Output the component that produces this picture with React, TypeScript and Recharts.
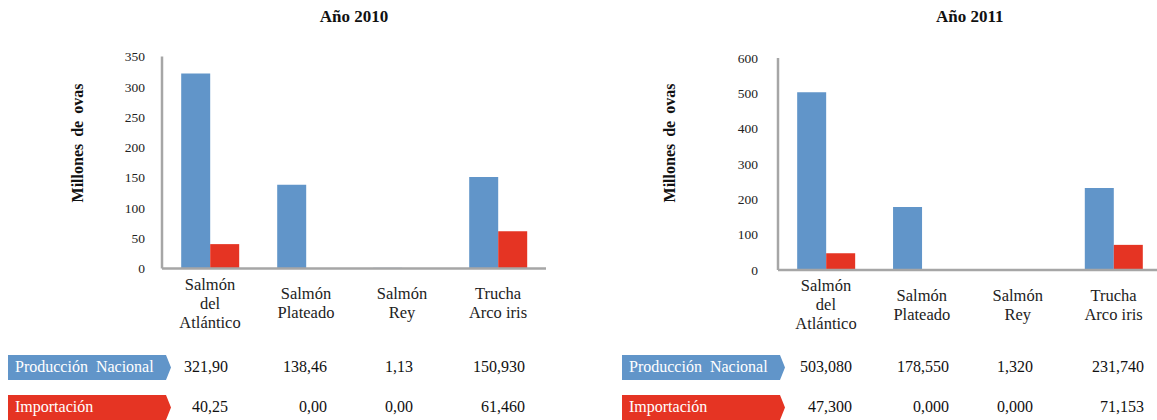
import { Bar, BarChart, XAxis, YAxis } from 'recharts';

const FONT = '"Liberation Serif", "DejaVu Serif", "Times New Roman", serif';
const BLUE = '#6195c9';
const RED = '#e53423';
const AXIS_GREY = '#a6a6a6';

const CATEGORIES = ['Salmón del Atlántico', 'Salmón Plateado', 'Salmón Rey', 'Trucha Arco iris'];
const CATEGORY_LINES: Record<string, string[]> = {
  'Salmón del Atlántico': ['Salmón', 'del', 'Atlántico'],
  'Salmón Plateado': ['Salmón', 'Plateado'],
  'Salmón Rey': ['Salmón', 'Rey'],
  'Trucha Arco iris': ['Trucha', 'Arco iris'],
};
const SERIES_NAMES = ['Producción  Nacional', 'Importación'];

const PRODUCCION_2010 = [321.9, 138.46, 1.13, 150.93];
const IMPORTACION_2010 = [40.25, 0, 0, 61.46];
const DECIMALS_2010 = [2, 2, 2, 3];
const TICKS_2010 = [0, 50, 100, 150, 200, 250, 300, 350];

const PRODUCCION_2011 = [503.08, 178.55, 1.32, 231.74];
const IMPORTACION_2011 = [47.3, 0, 0, 71.153];
const DECIMALS_2011 = [3, 3, 3, 3];
const TICKS_2011 = [0, 100, 200, 300, 400, 500, 600];

const fmt = (v: number, d: number) => v.toFixed(d).replace('.', ',');

function CategoryTick({ x, y, payload }: any) {
  const lines = CATEGORY_LINES[payload.value] ?? [payload.value];
  const mid = y + 26.5;
  const start = mid - ((lines.length - 1) * 19) / 2;
  return (
    <g>
      {lines.map((line, i) => (
        <text
          key={i}
          x={x}
          y={start + i * 19}
          dy="0.35em"
          textAnchor="middle"
          style={{ fontFamily: FONT }}
          fontSize={16.5}
          fill="#222"
        >
          {line}
        </text>
      ))}
    </g>
  );
}

function YTitle({ posX, posY }: any) {
  return (
    <text
      x={posX}
      y={posY}
      transform={`rotate(-90, ${posX}, ${posY})`}
      textAnchor="middle"
      dominantBaseline="central"
      style={{ fontFamily: FONT, wordSpacing: 3 }}
      fontWeight="bold"
      fontSize={16}
      fill="#111"
    >
      Millones de ovas
    </text>
  );
}

interface YearChartProps {
  title: string;
  left: number;
  width: number;
  produccion: number[];
  importacion: number[];
  decimals: number[];
  ticks: number[];
  plotLeft: number;
  plotRight: number;
  plotTop: number;
  plotBottom: number;
  tickMargin: number;
  yTitleX: number;
  boxLeft: number;
  boxWidth: number;
  valueRight: number[];
}

function YearChart(p: YearChartProps) {
  const data = CATEGORIES.map((name, i) => ({
    name,
    produccion: p.produccion[i],
    importacion: p.importacion[i],
  }));
  const height = 340;
  const titleCenter = (p.plotLeft + p.plotRight) / 2;
  const rows = [
    { name: SERIES_NAMES[0], color: BLUE, values: p.produccion, top: 355 },
    { name: SERIES_NAMES[1], color: RED, values: p.importacion, top: 395 },
  ];

  return (
    <div style={{ position: 'absolute', left: p.left, top: 0, width: p.width, height: 420 }}>
      <div
        style={{
          position: 'absolute',
          left: titleCenter - 100,
          width: 200,
          top: 7,
          lineHeight: '20px',
          textAlign: 'center',
          fontWeight: 'bold',
          fontSize: 17,
          color: '#111',
        }}
      >
        {p.title}
      </div>
      <div style={{ position: 'absolute', left: 0, top: 0 }}>
        <BarChart
          width={p.width}
          height={height}
          data={data}
          margin={{ top: p.plotTop, right: p.width - p.plotRight, left: p.plotLeft - 60, bottom: 0 }}
          barCategoryGap="20%"
          barGap={0}
          style={{ fontFamily: FONT }}
        >
          <XAxis
            dataKey="name"
            height={height - p.plotBottom}
            interval={0}
            tickLine={false}
            axisLine={{ stroke: AXIS_GREY, strokeWidth: 2.5 }}
            tick={<CategoryTick />}
          />
          <YAxis
            width={60}
            domain={[p.ticks[0], p.ticks[p.ticks.length - 1]]}
            ticks={p.ticks}
            interval={0}
            tickLine={false}
            tickMargin={p.tickMargin}
            axisLine={{ stroke: AXIS_GREY, strokeWidth: 2.5 }}
            tick={{ fontSize: 13.5, fill: '#222', style: { fontFamily: FONT } }}
            label={<YTitle posX={p.yTitleX} posY={143} />}
          />
          <Bar dataKey="produccion" fill={BLUE} isAnimationActive={false} />
          <Bar dataKey="importacion" fill={RED} isAnimationActive={false} />
        </BarChart>
      </div>
      {rows.map((row) => (
        <div key={row.name}>
          <div
            style={{
              position: 'absolute',
              left: p.boxLeft,
              top: row.top,
              width: p.boxWidth,
              height: 25,
              background: row.color,
              clipPath: 'polygon(0 0, calc(100% - 5px) 0, 100% 50%, calc(100% - 5px) 100%, 0 100%)',
              color: '#fff',
              fontSize: 16,
              lineHeight: '24px',
              paddingLeft: 7,
              boxSizing: 'border-box',
              whiteSpace: 'pre',
            }}
          >
            {row.name}
          </div>
          {row.values.map((v, i) => (
            <div
              key={i}
              style={{
                position: 'absolute',
                left: p.valueRight[i] - 100,
                width: 100,
                top: row.top,
                lineHeight: '24px',
                textAlign: 'right',
                fontSize: 16,
                color: '#111',
              }}
            >
              {fmt(v, p.decimals[i])}
            </div>
          ))}
        </div>
      ))}
    </div>
  );
}

export default function App() {
  return (
    <div
      style={{
        position: 'absolute',
        left: 0,
        top: 0,
        width: 1157,
        height: 420,
        overflow: 'hidden',
        background: '#fff',
        fontFamily: FONT,
      }}
    >
      <YearChart
        title="Año 2010"
        left={0}
        width={580}
        produccion={PRODUCCION_2010}
        importacion={IMPORTACION_2010}
        decimals={DECIMALS_2010}
        ticks={TICKS_2010}
        plotLeft={162}
        plotRight={546}
        plotTop={56.5}
        plotBottom={268.5}
        tickMargin={11}
        yTitleX={77}
        boxLeft={8}
        boxWidth={163}
        valueRight={[228, 327, 413, 525]}
      />
      <YearChart
        title="Año 2011"
        left={580}
        width={582}
        produccion={PRODUCCION_2011}
        importacion={IMPORTACION_2011}
        decimals={DECIMALS_2011}
        ticks={TICKS_2011}
        plotLeft={198}
        plotRight={581.5}
        plotTop={58}
        plotBottom={270}
        tickMargin={14}
        yTitleX={89}
        boxLeft={42}
        boxWidth={163}
        valueRight={[272, 369, 453, 564]}
      />
    </div>
  );
}
